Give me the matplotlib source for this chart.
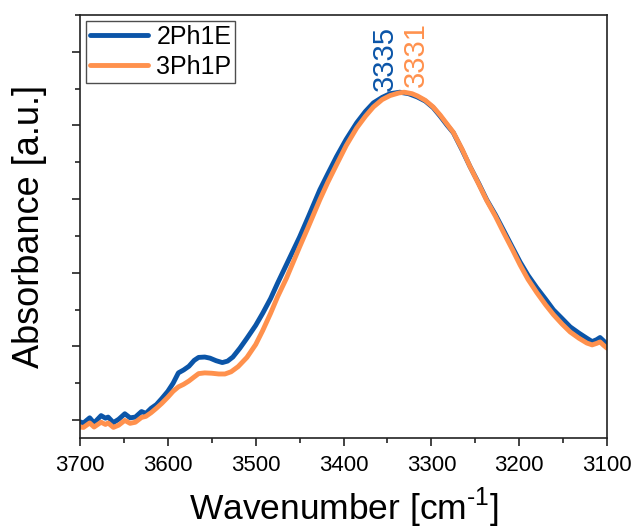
import matplotlib
matplotlib.use('Agg')
import matplotlib.pyplot as plt
from matplotlib.ticker import MultipleLocator

plt.rcParams['font.family'] = ['Liberation Sans', 'DejaVu Sans']
plt.rcParams['mathtext.fontset'] = 'custom'
plt.rcParams['mathtext.rm'] = 'Liberation Sans'

# 2Ph1E (blue)
wn_2ph1e = [3700, 3696, 3689, 3684, 3676, 3671, 3668, 3662, 3656, 3649, 3643, 3637,
            3630, 3625, 3619, 3613, 3607, 3600, 3594, 3588, 3582, 3576, 3570, 3565,
            3558, 3552, 3545, 3538, 3532, 3526, 3518, 3510, 3500, 3492, 3483, 3475,
            3465, 3450, 3440, 3427, 3418, 3408, 3397, 3385, 3375, 3366, 3356, 3347,
            3336, 3326, 3316, 3307, 3298, 3290, 3282, 3275, 3265, 3256, 3246, 3237,
            3227, 3218, 3208, 3199, 3190, 3180, 3170, 3161, 3151, 3142, 3132, 3123,
            3117, 3112, 3108, 3104, 3100]
abs_2ph1e = [-0.005, -0.008, 0.006, -0.008, 0.012, 0.005, 0.008, -0.007, 0.002, 0.017, 0.006, 0.008,
             0.023, 0.018, 0.032, 0.042, 0.058, 0.078, 0.100, 0.128, 0.136, 0.146, 0.162, 0.170,
             0.171, 0.168, 0.161, 0.156, 0.160, 0.171, 0.195, 0.222, 0.257, 0.290, 0.330, 0.372,
             0.422, 0.497, 0.552, 0.625, 0.668, 0.715, 0.762, 0.807, 0.838, 0.861, 0.876, 0.886,
             0.890, 0.886, 0.877, 0.866, 0.848, 0.825, 0.800, 0.780, 0.733, 0.688, 0.642, 0.598,
             0.557, 0.516, 0.470, 0.429, 0.393, 0.359, 0.328, 0.299, 0.275, 0.253, 0.236, 0.222,
             0.213, 0.218, 0.224, 0.215, 0.205]

# 3Ph1P (orange)
wn_3ph1p = [3700, 3696, 3689, 3684, 3676, 3671, 3668, 3662, 3656, 3649, 3643, 3637,
            3630, 3625, 3619, 3613, 3607, 3600, 3594, 3588, 3582, 3576, 3570, 3565,
            3558, 3550, 3542, 3535, 3528, 3520, 3510, 3500, 3492, 3483, 3475, 3465,
            3450, 3440, 3427, 3418, 3408, 3397, 3385, 3375, 3366, 3356, 3347, 3337,
            3331, 3322, 3316, 3307, 3298, 3290, 3282, 3275, 3265, 3256, 3246, 3237,
            3227, 3218, 3208, 3199, 3190, 3180, 3170, 3161, 3151, 3142, 3132, 3123,
            3117, 3112, 3108, 3104, 3100]
abs_3ph1p = [-0.019, -0.020, -0.008, -0.019, -0.006, -0.012, -0.008, -0.020, -0.014, -0.001, -0.009, -0.006,
             0.007, 0.010, 0.020, 0.032, 0.045, 0.062, 0.078, 0.090, 0.097, 0.106, 0.117, 0.126,
             0.128, 0.127, 0.125, 0.125, 0.131, 0.145, 0.170, 0.205, 0.243, 0.290, 0.335, 0.385,
             0.470, 0.525, 0.598, 0.645, 0.693, 0.745, 0.793, 0.825, 0.850, 0.870, 0.881, 0.888,
             0.890, 0.886, 0.880, 0.868, 0.850, 0.828, 0.803, 0.781, 0.735, 0.688, 0.640, 0.596,
             0.553, 0.510, 0.464, 0.421, 0.382, 0.346, 0.313, 0.286, 0.260, 0.239, 0.222, 0.209,
             0.204, 0.208, 0.212, 0.203, 0.195]

peak_labels = ['3335', '3331']

blue = '#0B55A8'
orange = '#FF914D'

fig = plt.figure(figsize=(6.37, 5.31), dpi=100)
ax = fig.add_axes([0.1256, 0.175, 0.953 - 0.1256, 0.972 - 0.175])

ax.plot(wn_2ph1e, abs_2ph1e, color=blue, lw=3.5, label='2Ph1E', solid_capstyle='round')
ax.plot(wn_3ph1p, abs_3ph1p, color=orange, lw=3.5, label='3Ph1P', solid_capstyle='round')

ax.text(3353, 0.893, peak_labels[0], rotation=90, color=blue, fontsize=21,
        ha='center', va='bottom')
ax.text(3318, 0.903, peak_labels[1], rotation=90, color=orange, fontsize=21,
        ha='center', va='bottom')

ax.set_xlim(3700, 3100)
ax.set_ylim(-0.049, 1.10)
ax.xaxis.set_major_locator(MultipleLocator(100))
ax.xaxis.set_minor_locator(MultipleLocator(50))
ax.yaxis.set_major_locator(MultipleLocator(0.2))
ax.yaxis.set_minor_locator(MultipleLocator(0.1))
ax.set_yticklabels([])
ax.tick_params(which='major', direction='out', length=6, width=1.2, labelsize=16, colors='#222222')
ax.tick_params(which='minor', direction='out', length=3.5, width=1.2, colors='#222222')
ax.tick_params(axis='x', labelcolor='black', pad=6)
for s in ax.spines.values():
    s.set_linewidth(1.2)
    s.set_color('#222222')

ax.set_xlabel('Wavenumber [cm$^{\\text{-1}}$]', fontsize=25.5, labelpad=7)
ax.set_ylabel('Absorbance [a.u.]', fontsize=26, labelpad=14)

leg = ax.legend(loc='upper left', fontsize=18, handlelength=2.3, frameon=True,
                fancybox=False, edgecolor='#222222', borderaxespad=0.25,
                borderpad=0.15, labelspacing=0.25, handletextpad=0.35)
leg.get_frame().set_linewidth(1.0)

fig.savefig('out.png', dpi=100)
